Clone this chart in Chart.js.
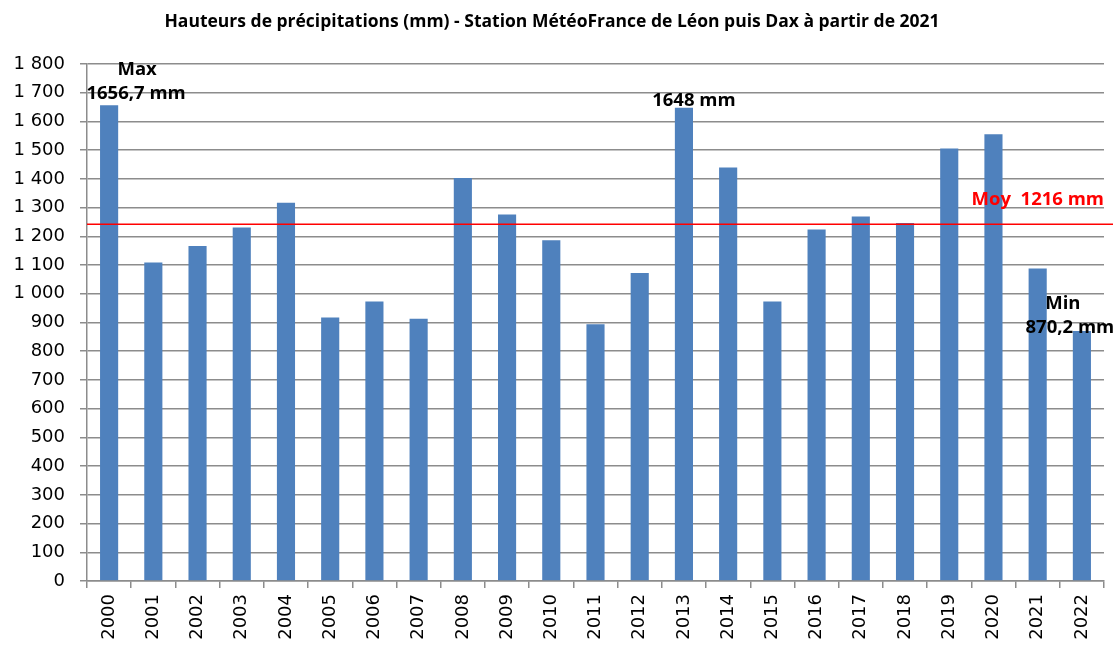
<!DOCTYPE html>
<html>
<head>
<meta charset="utf-8">
<script src="https://cdn.jsdelivr.net/npm/chart.js@4/dist/chart.umd.min.js"></script>
<style>
  html, body { margin: 0; padding: 0; background: #fff; }
  #wrap { width: 1114px; height: 646px; position: relative; }
</style>
</head>
<body>
<div id="wrap"><canvas id="chart"></canvas></div>
<script>
/* ── Données ── */
var years = ['2000', '2001', '2002', '2003', '2004', '2005', '2006', '2007', '2008', '2009', '2010', '2011',
             '2012', '2013', '2014', '2015', '2016', '2017', '2018', '2019', '2020', '2021', '2022'];
var rainfall = [1656.7, 1109, 1166, 1231, 1317, 917, 973, 913, 1403, 1276, 1186, 894,
                1072, 1648, 1440, 973, 1224, 1269, 1246, 1506, 1555, 1088, 870.2];
var moyLine = 1242;          // position de la ligne rouge telle que tracée
var moyLabel = 'Moy  1216 mm';
var titleText = 'Hauteurs de précipitations (mm) - Station MétéoFrance de Léon puis Dax à partir de 2021';

/* ── Annotations texte (ligne rouge + étiquettes max / min) ── */
var notesPlugin = {
    id: 'notes',
    afterDatasetsDraw: function ( chart ) {
        var ctx = chart.ctx;
        var x = chart.scales.x;
        var y = chart.scales.y;
        var area = chart.chartArea;
        ctx.save();

        // ligne moyenne
        var yMoy = y.getPixelForValue( moyLine );
        ctx.strokeStyle = '#ff0000';
        ctx.lineWidth = 1.5;
        ctx.beginPath();
        ctx.moveTo( area.left, yMoy );
        ctx.lineTo( chart.width - 1, yMoy );
        ctx.stroke();

        ctx.font = 'bold 18.5px "Open Sans"';
        ctx.textBaseline = 'middle';
        ctx.fillStyle = '#ff0000';
        ctx.textAlign = 'right';
        ctx.fillText( moyLabel, area.right, yMoy - 25 );

        ctx.fillStyle = '#000';
        ctx.textAlign = 'center';
        var x0 = x.getPixelForValue( 0 ), y0 = y.getPixelForValue( rainfall[0] );
        ctx.fillText( 'Max', x0 + 28, y0 - 35 );
        ctx.fillText( '1656,7 mm', x0 + 27, y0 - 11 );

        var x13 = x.getPixelForValue( 13 ), y13 = y.getPixelForValue( rainfall[13] );
        ctx.fillText( '1648 mm', x13 + 10, y13 - 7 );

        var x22 = x.getPixelForValue( 22 ), y22 = y.getPixelForValue( rainfall[22] );
        ctx.fillText( 'Min', x22 - 19, y22 - 27 );
        ctx.fillText( '870,2 mm', x22 - 12, y22 - 3 );

        ctx.restore();
    }
};

var gridGrey = '#8c8c8c';

new Chart( document.getElementById( 'chart' ), {
    type: 'bar',
    data: {
        labels: years,
        datasets: [ {
            label: 'Précipitations',
            data: rainfall,
            backgroundColor: '#4f81bd',
            borderWidth: 0,
            barPercentage: 0.41,
            categoryPercentage: 1.0
        } ]
    },
    options: {
        responsive: true,
        maintainAspectRatio: false,
        animation: false,
        layout: { padding: { left: 0, right: 10, top: 0, bottom: 0 } },
        plugins: {
            legend: { display: false },
            tooltip: { enabled: false },
            title: {
                display: true,
                text: titleText,
                color: '#000',
                font: { family: '"Open Sans"', size: 17.5, weight: 'bold' },
                padding: { top: 12, bottom: 31 }
            }
        },
        scales: {
            x: {
                offset: true,
                grid: {
                    offset: true,
                    drawOnChartArea: false,
                    drawTicks: true,
                    tickLength: 7,
                    color: gridGrey,
                    lineWidth: 1.5
                },
                border: { color: gridGrey, width: 1.5 },
                ticks: {
                    color: '#000',
                    font: { family: '"DejaVu Sans"', size: 18 },
                    minRotation: 90,
                    maxRotation: 90,
                    padding: 6,
                    autoSkip: false
                },
                afterFit: function ( scale ) { scale.height = 65; }
            },
            y: {
                min: 0,
                max: 1800,
                grid: {
                    color: gridGrey,
                    lineWidth: 1.5,
                    tickLength: 7
                },
                border: { color: gridGrey, width: 1.5 },
                ticks: {
                    stepSize: 100,
                    color: '#000',
                    padding: 15,
                    font: { family: '"DejaVu Sans"', size: 18 },
                    callback: function ( v ) {
                        return String( v ).replace( /\B(?=(\d{3})+(?!\d))/g, ' ' );
                    }
                },
                afterFit: function ( scale ) { scale.width = 87; }
            }
        }
    },
    plugins: [ notesPlugin ]
} );
</script>
</body>
</html>
